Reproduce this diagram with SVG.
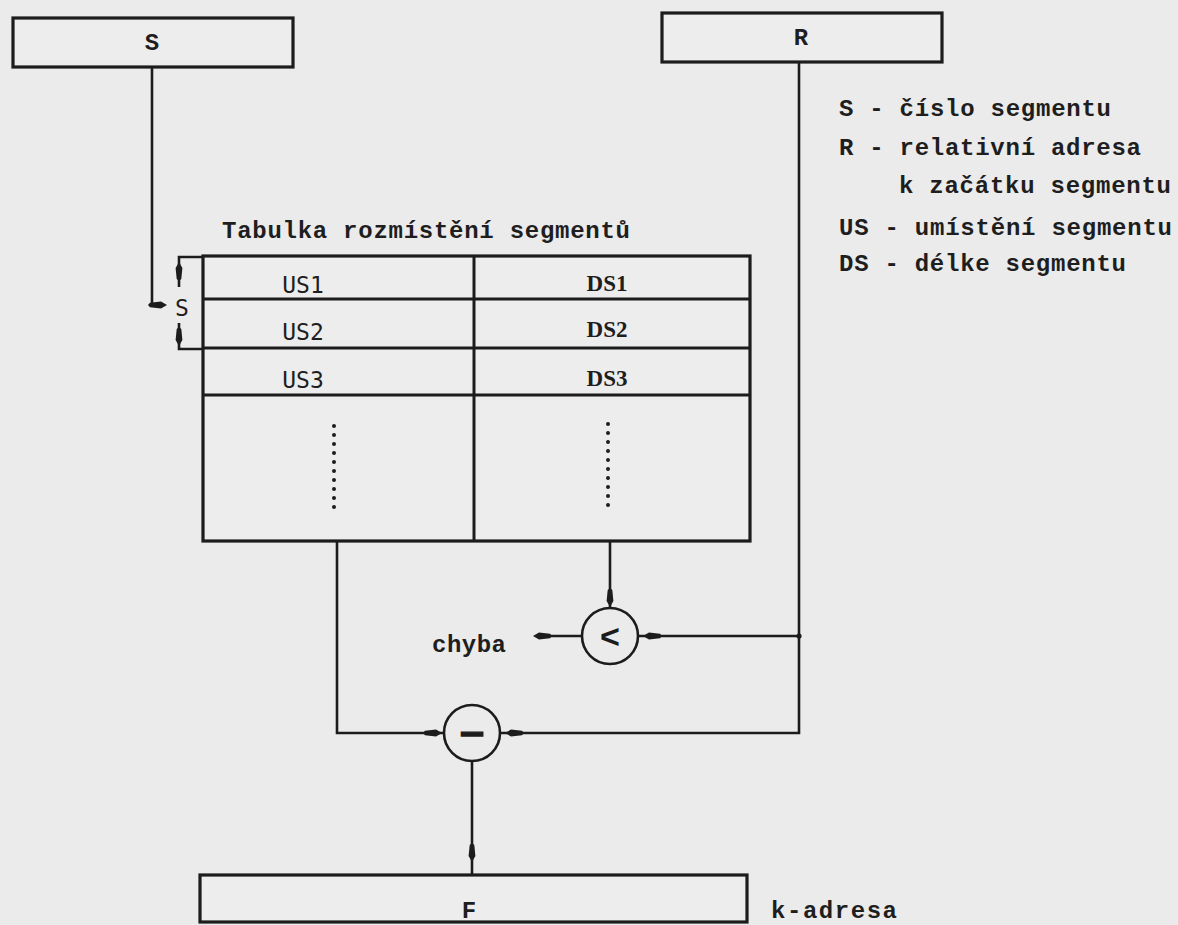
<svg xmlns="http://www.w3.org/2000/svg" xmlns:xlink="http://www.w3.org/1999/xlink" width="1178" height="925" viewBox="0 0 1178 925">
<style>
.ln{fill:none;stroke:#1c1c1c;stroke-width:2.6;stroke-linejoin:miter}
.tl{fill:none;stroke:#1c1c1c;stroke-width:3}
.bx{fill:#ededed;stroke:#1c1c1c;stroke-width:3.2}
.tw{font-family:"Liberation Mono","Courier New",monospace;font-weight:bold;font-size:24px;fill:#1e1e1e}
.lg{font-family:"DejaVu Sans Mono","Liberation Mono",monospace;font-size:23px;fill:#1e1e1e}
.sf{font-family:"Liberation Serif","Times New Roman",serif;font-weight:bold;font-size:23px;fill:#1e1e1e}
.ah{fill:#1c1c1c}
.dots{fill:none;stroke:#1c1c1c;stroke-width:4;stroke-linecap:round;stroke-dasharray:0 9}
</style>
<defs>
<path id="ah" class="ah" d="M0,0 L-6,-3.4 L-17,-2.3 L-19,0 L-17,2.3 L-6,3.4 Z"/>
</defs>
<rect x="0" y="0" width="1178" height="925" fill="#ebebeb"/>

<g id="node-S">
<rect class="bx" x="13" y="18" width="280" height="49"/>
<text class="tw" x="152" y="50" text-anchor="middle">S</text>
</g>

<g id="node-R">
<rect class="bx" x="662" y="13" width="280" height="49"/>
<text class="tw" x="801" y="45" text-anchor="middle">R</text>
</g>

<g id="legend">
<text class="tw" x="839" y="116" textLength="272" lengthAdjust="spacing">S - číslo segmentu</text>
<text class="tw" x="839" y="155" textLength="302" lengthAdjust="spacing">R - relativní adresa</text>
<text class="tw" x="899" y="193" textLength="272" lengthAdjust="spacing">k začátku segmentu</text>
<text class="tw" x="839" y="235" textLength="333" lengthAdjust="spacing">US - umístění segmentu</text>
<text class="tw" x="839" y="271" textLength="287" lengthAdjust="spacing">DS - délke segmentu</text>
</g>

<g id="node-table">
<text class="tw" x="222" y="238" textLength="408" lengthAdjust="spacing">Tabulka rozmístění segmentů</text>
<rect class="bx" x="203" y="256" width="547" height="285"/>
<line class="tl" x1="474" y1="256" x2="474" y2="541"/>
<line class="tl" x1="203" y1="299" x2="750" y2="299"/>
<line class="tl" x1="203" y1="348" x2="750" y2="348"/>
<line class="tl" x1="203" y1="395" x2="750" y2="395"/>
<text class="lg" x="303" y="293" text-anchor="middle">US1</text>
<text class="lg" x="303" y="340" text-anchor="middle">US2</text>
<text class="lg" x="303" y="388" text-anchor="middle">US3</text>
<text class="sf" x="607" y="291" text-anchor="middle">DS1</text>
<text class="sf" x="607" y="337" text-anchor="middle">DS2</text>
<text class="sf" x="607" y="386" text-anchor="middle">DS3</text>
<line class="dots" x1="334" y1="426" x2="334" y2="508"/>
<line class="dots" x1="608" y1="424" x2="608" y2="506"/>
</g>

<g id="node-bracket">
<path class="ln" d="M203,257 H179 V287"/>
<path class="ln" d="M179,323 V349 H203"/>
<use xlink:href="#ah" transform="translate(179,262) rotate(-90)"/>
<use xlink:href="#ah" transform="translate(179,346) rotate(90)"/>
<text class="lg" x="182" y="316" text-anchor="middle">S</text>
</g>

<g id="node-compare">
<circle class="ln" cx="610" cy="636" r="28" stroke-width="3"/>
<text x="610" y="648" text-anchor="middle" font-family="Liberation Sans, Arial, sans-serif" font-weight="bold" font-size="34" fill="#1c1c1c">&lt;</text>
</g>

<g id="node-chyba">
<text class="tw" x="432" y="652" textLength="74" lengthAdjust="spacing">chyba</text>
</g>

<g id="node-minus">
<circle class="ln" cx="472" cy="733" r="28" stroke-width="3"/>
<text x="472" y="745" text-anchor="middle" font-family="DejaVu Sans, sans-serif" font-weight="bold" font-size="34" fill="#1c1c1c" stroke="#1c1c1c" stroke-width="1.4">−</text>
</g>

<g id="node-F">
<rect class="bx" x="200" y="875" width="547" height="47"/>
<text class="tw" x="469" y="918" text-anchor="middle">F</text>
<text class="tw" x="771" y="918" textLength="126" lengthAdjust="spacing">k-adresa</text>
</g>

<g id="connectors">
<path class="ln" d="M152,67 V305 H160"/>
<use xlink:href="#ah" transform="translate(167,305)"/>
<path class="ln" d="M610,541 V608"/>
<use xlink:href="#ah" transform="translate(610,607) rotate(90)"/>
<path class="ln" d="M799,62 V733 H500"/>
<path class="ln" d="M799,636 H638"/>
<circle cx="799" cy="636" r="2.6" fill="#1c1c1c"/>
<use xlink:href="#ah" transform="translate(643,636) rotate(180)"/>
<path class="ln" d="M582,636 H540"/>
<use xlink:href="#ah" transform="translate(533,636) rotate(180)"/>
<use xlink:href="#ah" transform="translate(505,733) rotate(180)"/>
<path class="ln" d="M337,541 V733 H444"/>
<use xlink:href="#ah" transform="translate(442,733)"/>
<path class="ln" d="M472,761 V875"/>
<use xlink:href="#ah" transform="translate(472,862) rotate(90)"/>
</g>
</svg>
